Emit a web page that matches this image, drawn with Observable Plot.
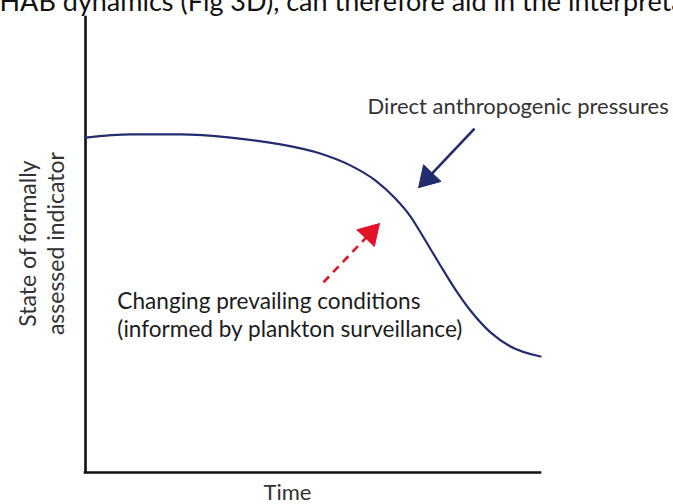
<!DOCTYPE html>
<html><head><meta charset="utf-8">
<script src="https://cdn.jsdelivr.net/npm/d3@7"></script>
<script src="https://cdn.jsdelivr.net/npm/@observablehq/plot@0.6"></script>
<style>html,body{margin:0;padding:0;background:#fff;}</style>
</head><body><div id="chart"></div>
<script>
// Conceptual curve: state of indicator over time (0–100 units on both axes)
const curveTime  = [0, 9.9, 20.9, 31.9, 42.9, 51.6, 58.2, 63.7, 68.1, 71.4, 74.7, 78.0, 81.3, 84.6, 89.0, 93.4, 100];
const curveState = [73.6, 74.3, 74.3, 73.6, 72.1, 70.1, 67.5, 64.2, 60.2, 56.3, 51.0, 45.5, 40.2, 35.6, 30.8, 27.7, 25.5];

// Arrows (tail -> tip) in the same units
const arrowName  = ["direct", "prevailing"];
const arrowFromT = [85.5, 52.3];
const arrowFromS = [75.6, 41.8];
const arrowToT   = [73.2, 64.6];
const arrowToS   = [62.6, 54.7];
const arrowColor = ["#232c6e", "#e3122b"];

// Annotation texts
const annoText  = ["Direct anthropogenic pressures", "Changing prevailing conditions\n(informed by plankton surveillance)"];
const annoT     = [62.0, 7.0];
const annoS     = [78.9, 29.7];
const annoFill  = ["#333333", "#1c1c1c"];
const annoSize  = [22, 22.6];

const yLabel = "State of formally\nassessed indicator";
const xLabel = "Time";
const pageText = "HAB dynamics (Fig 3D), can therefore aid in the interpretation";

const headL = 4.4, headW = 5.3;
const arrows = arrowName.map((name, i) => {
  const fx = arrowFromT[i], fy = arrowFromS[i], tx = arrowToT[i], ty = arrowToS[i];
  const dx = tx - fx, dy = ty - fy, len = Math.hypot(dx, dy);
  const ux = dx / len, uy = dy / len, px = -uy, py = ux;
  const bx = tx - headL * ux, by = ty - headL * uy;
  return {
    name, color: arrowColor[i], fx, fy,
    ex: bx + ux * 0.8, ey: by + uy * 0.8,
    tri: [[tx, ty], [bx + px * headW / 2, by + py * headW / 2], [bx - px * headW / 2, by - py * headW / 2], [tx, ty]]
      .map(([t, s]) => ({name, t, s}))
  };
});

const curve = curveTime.map((t, i) => ({t, s: curveState[i]}));
const annos = annoText.map((text, i) => ({text, t: annoT[i], s: annoS[i], fill: annoFill[i], size: annoSize[i]}));

const plot = Plot.plot({
  width: 673, height: 504,
  marginLeft: 85, marginRight: 133, marginTop: 17, marginBottom: 32,
  x: {domain: [0, 100], axis: null},
  y: {domain: [0, 100], axis: null},
  style: {fontFamily: "Lato, 'Open Sans', sans-serif", background: "#fff"},
  marks: [
    Plot.ruleX([0], {stroke: "#111", strokeWidth: 2.6, strokeLinecap: "square"}),
    Plot.ruleY([0], {stroke: "#111", strokeWidth: 2.6, strokeLinecap: "square"}),
    Plot.line(curve, {x: "t", y: "s", curve: "monotone-x", stroke: "#232c6e", strokeWidth: 2.2}),
    Plot.link(arrows.filter(a => a.name === "direct"), {x1: "fx", y1: "fy", x2: "ex", y2: "ey", stroke: "color", strokeWidth: 2.6}),
    Plot.link(arrows.filter(a => a.name === "prevailing"), {x1: "fx", y1: "fy", x2: "ex", y2: "ey", stroke: "color", strokeWidth: 2.6, strokeDasharray: "8,6"}),
    ...arrows.map(a => Plot.line(a.tri, {x: "t", y: "s", fill: a.color, stroke: a.color, strokeWidth: 1, strokeLinejoin: "miter"})),
    ...annos.map(a => Plot.text([a], {x: "t", y: "s", text: "text", fill: "fill", textAnchor: "start", lineAnchor: "bottom", fontSize: a.size, lineHeight: 1.24})),
    Plot.text([yLabel], {x: () => -9.8, y: () => 50.3, text: d => d, rotate: -90, textAnchor: "middle", lineAnchor: "middle", fontSize: 23, lineHeight: 1.22, fill: "#333"}),
    Plot.text([xLabel], {x: () => 44.4, y: () => -6.0, text: d => d, textAnchor: "middle", lineAnchor: "bottom", fontSize: 22, fill: "#333"}),
    Plot.text([pageText], {x: () => -18.9, y: () => 101.5, text: d => d, textAnchor: "start", lineAnchor: "bottom", fontSize: 27.0, fill: "#111"})
  ]
});
document.getElementById("chart").appendChild(plot);
</script>
</body></html>
